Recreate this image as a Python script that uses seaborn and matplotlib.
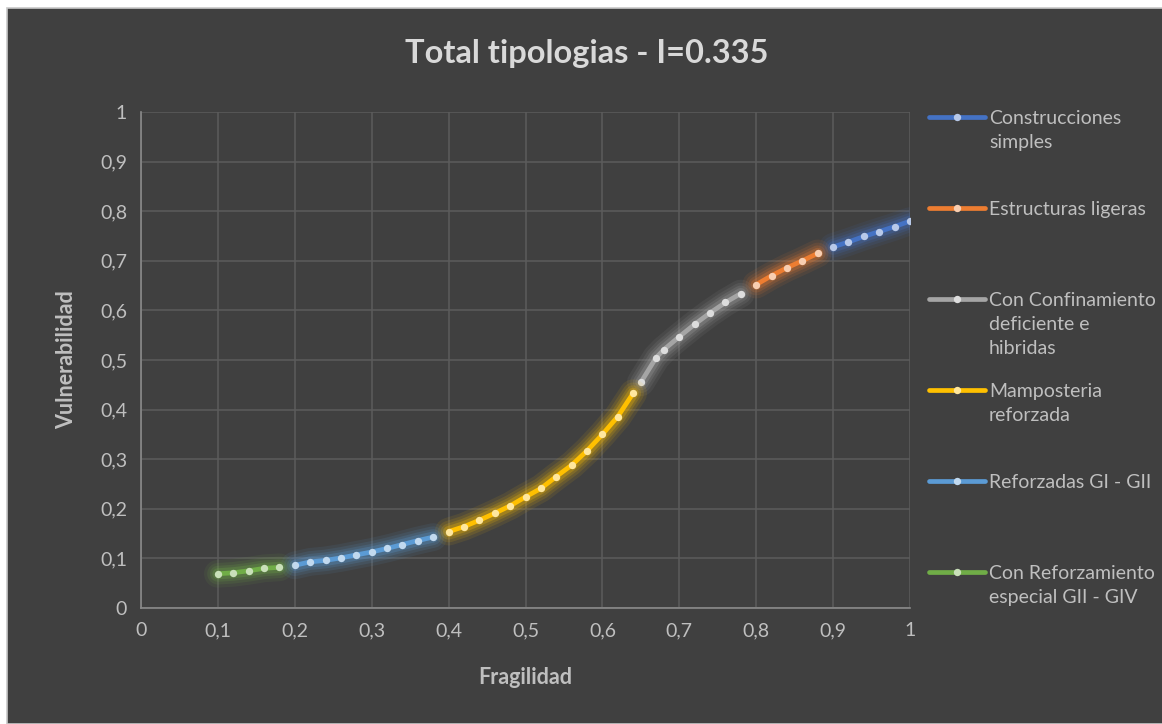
import numpy as np
import pandas as pd
import matplotlib
matplotlib.use("Agg")
import matplotlib.pyplot as plt
import matplotlib.colors as mcolors
from matplotlib.patches import Rectangle
from matplotlib.lines import Line2D
from matplotlib.ticker import FuncFormatter
import seaborn as sns

# ---------------- data ----------------
title = "Total tipologias - I=0.335"
x_label = "Fragilidad"
y_label = "Vulnerabilidad"

series_names = [
    "Construcciones\nsimples",
    "Estructuras ligeras",
    "Con Confinamiento\ndeficiente e\nhibridas",
    "Mamposteria\nreforzada",
    "Reforzadas GI - GII",
    "Con Reforzamiento\nespecial GII - GIV",
]
series_colors = ["#4472C4", "#ED7D31", "#A5A5A5", "#FFC000", "#5B9BD5", "#70AD47"]

x_simples = [0.90, 0.92, 0.94, 0.96, 0.98, 1.00]
y_simples = [0.728, 0.738, 0.749, 0.759, 0.769, 0.780]

x_ligeras = [0.80, 0.82, 0.84, 0.86, 0.88]
y_ligeras = [0.652, 0.670, 0.686, 0.700, 0.715]

x_confin = [0.65, 0.67, 0.68, 0.70, 0.72, 0.74, 0.76, 0.78]
y_confin = [0.455, 0.505, 0.521, 0.547, 0.572, 0.595, 0.616, 0.634]

x_mampost = [0.40, 0.42, 0.44, 0.46, 0.48, 0.50, 0.52, 0.54, 0.56, 0.58, 0.60, 0.62, 0.64]
y_mampost = [0.154, 0.164, 0.177, 0.191, 0.206, 0.224, 0.241, 0.265, 0.288, 0.317, 0.350, 0.386, 0.433]

x_reforz = [0.20, 0.22, 0.24, 0.26, 0.28, 0.30, 0.32, 0.34, 0.36, 0.38]
y_reforz = [0.086, 0.093, 0.096, 0.101, 0.107, 0.113, 0.120, 0.128, 0.136, 0.143]

x_especial = [0.10, 0.12, 0.14, 0.16, 0.18]
y_especial = [0.069, 0.071, 0.075, 0.080, 0.082]

series_x = [x_simples, x_ligeras, x_confin, x_mampost, x_reforz, x_especial]
series_y = [y_simples, y_ligeras, y_confin, y_mampost, y_reforz, y_especial]

ticks = [0, 0.1, 0.2, 0.3, 0.4, 0.5, 0.6, 0.7, 0.8, 0.9, 1.0]

# ---------------- style ----------------
BG = "#404040"
TXT = "#D9D9D9"
TICK = "#BFBFBF"
GRID = "#5C5C5C"

sns.set_theme(style="dark")
plt.rcParams["font.family"] = ["Lato", "DejaVu Sans"]

W, H = 1162, 724
fig = plt.figure(figsize=(W / 100, H / 100), dpi=100, facecolor="white")
fig.patches.append(Rectangle((7 / W, 0), 1, 1 - 8 / H, transform=fig.transFigure,
                             facecolor=BG, edgecolor="#C8C8C8", linewidth=1.2, zorder=-5))

ax = fig.add_axes([141 / W, 1 - 608 / H, (910 - 141) / W, (608 - 112) / H])
ax.set_facecolor(BG)


def lighten(c, f):
    r, g, b = mcolors.to_rgb(c)
    return (r + (1 - r) * f, g + (1 - g) * f, b + (1 - b) * f)


for xs, ys, c, name in zip(series_x, series_y, series_colors, series_names):
    df = pd.DataFrame({"x": xs, "y": ys})
    # soft glow around each segment
    for lw, a in [(20, 0.09), (15.5, 0.12), (11.5, 0.17), (8, 0.26)]:
        sns.lineplot(data=df, x="x", y="y", color=c, linewidth=lw, alpha=a,
                     ax=ax, sort=False, legend=False, solid_capstyle="round")
    sns.lineplot(data=df, x="x", y="y", color=c, linewidth=3.4, ax=ax, sort=False,
                 legend=False, marker="o", markersize=5.3,
                 markerfacecolor=lighten(c, 0.62), markeredgewidth=0,
                 solid_capstyle="round")

ax.set_xlim(0, 1)
ax.set_ylim(0, 1)
ax.set_xticks(ticks)
ax.set_yticks(ticks)
fmt = FuncFormatter(lambda v, p: ("%g" % round(v, 1)).replace(".", ","))
ax.xaxis.set_major_formatter(fmt)
ax.yaxis.set_major_formatter(fmt)
ax.grid(True, color=GRID, linewidth=1.1)
ax.set_axisbelow(True)
ax.tick_params(axis="both", colors=TICK, labelsize=14, length=0)
ax.tick_params(axis="x", pad=10)
ax.tick_params(axis="y", pad=10)
for s in ["top", "right"]:
    ax.spines[s].set_visible(False)
for s in ["left", "bottom"]:
    ax.spines[s].set_visible(True)
    ax.spines[s].set_color("#8A8A8A")
    ax.spines[s].set_linewidth(1.2)

ax.set_xlabel(x_label, color=TICK, fontsize=15.5, fontweight="bold")
ax.set_ylabel(y_label, color=TICK, fontsize=15.5, fontweight="bold")
ax.xaxis.set_label_coords(0.5, (608 - 678) / 496)
ax.xaxis.label.set_va("center")
ax.yaxis.set_label_coords((67 - 141) / 769, 0.5)
ax.yaxis.label.set_va("center")

fig.text(587 / W, 1 - 53 / H, title, ha="center", va="center",
         color=TXT, fontsize=23.5, fontweight="bold")

# legend (manual, handle aligned with first text line like the reference)
y0, dy = 117, 91
for i, (name, c) in enumerate(zip(series_names, series_colors)):
    yp = 1 - (y0 + dy * i) / H
    fig.add_artist(Line2D([929 / W, 985 / W], [yp, yp], transform=fig.transFigure,
                          color=c, linewidth=3.4, solid_capstyle="round"))
    fig.add_artist(Line2D([957 / W], [yp], transform=fig.transFigure, marker="o",
                          markersize=5.3, markerfacecolor=lighten(c, 0.62),
                          markeredgewidth=0, linestyle="none"))
    fig.text(989 / W, yp + 7 / H, name, ha="left", va="top", color=TICK,
             fontsize=14, linespacing=1.5)

fig.savefig("out.png", dpi=100, facecolor=fig.get_facecolor())
